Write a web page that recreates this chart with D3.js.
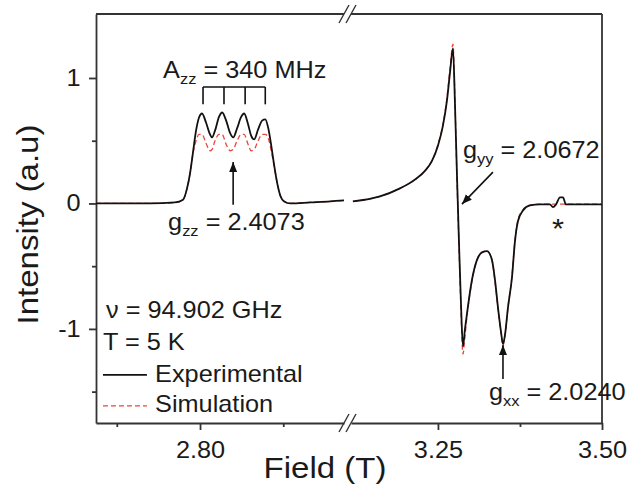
<!DOCTYPE html>
<meta charset="utf-8">
<style>
body { margin: 0; background: #fff; }
svg { font-family: "Liberation Sans", Arial, sans-serif; }
text { fill: #1a1a1a; white-space: pre; }
.axis path, .axis line { fill: none; stroke: #333; stroke-width: 1.8; }
.axis text { font-size: 23px; fill: #1a1a1a; }
.frame { stroke: #333; stroke-width: 1.8; fill: none; }
.exp { fill: none; stroke: #111; stroke-width: 1.8; }
.sim { fill: none; stroke: #e8473f; stroke-width: 1.3; stroke-dasharray: 5,3; }
.note { stroke: #111; stroke-width: 1.6; fill: none; }
</style>
<svg class="chart"></svg>
<script src="https://d3js.org/d3.v7.min.js"></script>
<script>

// left piece of the broken field axis (T)
var fieldLeft = [2.7375, 2.7700, 2.7849, 2.7898, 2.7922, 2.7940, 2.7958, 2.7976, 2.7994, 2.8012,
                 2.8036, 2.8060, 2.8072, 2.8090, 2.8114, 2.8133, 2.8157, 2.8181, 2.8199, 2.8223,
                 2.8247, 2.8265, 2.8289, 2.8307, 2.8325, 2.8349, 2.8373, 2.8392, 2.8410, 2.8428,
                 2.8446, 2.8464, 2.8482, 2.8506, 2.8542, 2.8663, 2.8783, 2.8865];
var expLeft = [0, 0, 0.008, 0.03, 0.12, 0.24, 0.41, 0.58, 0.685, 0.717,
               0.645, 0.55, 0.526, 0.58, 0.69, 0.725, 0.66, 0.56, 0.526, 0.60,
               0.69, 0.717, 0.63, 0.54, 0.51, 0.59, 0.66, 0.67, 0.60, 0.46,
               0.30, 0.16, 0.064, 0.016, 0, 0.008, 0.016, 0.024];
var simLeft = [0, 0, 0.005, 0.03, 0.12, 0.24, 0.40, 0.50, 0.55, 0.55,
               0.48, 0.42, 0.43, 0.50, 0.55, 0.55, 0.47, 0.42, 0.43, 0.50,
               0.55, 0.55, 0.47, 0.42, 0.43, 0.50, 0.55, 0.55, 0.52, 0.42,
               0.29, 0.16, 0.06, 0.015, 0, 0.008, 0.016, 0.024];

// right piece
var fieldRight = [3.1204, 3.1616, 3.1921, 3.2149, 3.2302, 3.2409, 3.2500, 3.2576, 3.2637, 3.2683,
                  3.2729, 3.2759, 3.2790, 3.2820, 3.2851, 3.2881, 3.2912, 3.2942, 3.3018, 3.3095,
                  3.3171, 3.3247, 3.3323, 3.3369, 3.3415, 3.3460, 3.3491, 3.3521, 3.3567, 3.3628,
                  3.3674, 3.3720, 3.3796, 3.3902, 3.4055, 3.4207, 3.4253, 3.4299, 3.4360, 3.4405,
                  3.4451, 3.4665, 3.5000];
var expRight = [0.016, 0.056, 0.12, 0.19, 0.26, 0.34, 0.46, 0.62, 0.82, 1.04,
                1.235, 0.80, 0.22, -0.30, -0.80, -1.14, -1.00, -0.88, -0.61, -0.45,
                -0.39, -0.38, -0.45, -0.61, -0.83, -1.02, -1.12, -1.05, -0.83, -0.59,
                -0.30, -0.14, -0.056, -0.016, -0.008, -0.008, -0.03, -0.008, 0.048, 0.048,
                -0.008, -0.008, -0.008];
var simRight = [0.016, 0.056, 0.12, 0.19, 0.26, 0.34, 0.47, 0.63, 0.84, 1.07,
                1.27, 0.82, 0.20, -0.33, -0.85, -1.20, -1.06, -0.90, -0.62, -0.45,
                -0.39, -0.38, -0.45, -0.62, -0.84, -1.03, -1.13, -1.06, -0.83, -0.58,
                -0.29, -0.13, -0.05, -0.014, -0.006, -0.006, -0.006, -0.006, -0.006, -0.006,
                -0.006, -0.006, -0.006];

var leftTicks = [2.80], leftMinor = [2.75, 2.85];
var rightTicks = [3.25, 3.50], rightMinor = [3.375];
var yTicks = [1, 0, -1], yMinor = [0.5, -0.5, -1.5];
var hfLines = [2.8018, 2.8144, 2.8271, 2.8392];   // A_zz comb

var margin = {top: 14, left: 96, right: 26, bottom: 61},
    W = 628, H = 484,
    x0 = margin.left, x1 = W - margin.right,
    y0 = margin.top, y1 = H - margin.bottom,
    gapL = 344, gapR = 351;

var svg = d3.select(".chart").attr("width", W).attr("height", H);

var xL = d3.scaleLinear().domain([2.7375, 2.8865]).range([x0, gapL]);
var xR = d3.scaleLinear().domain([3.1175, 3.50]).range([gapR, x1]);
var y = d3.scaleLinear().domain([-1.75, 1.51]).range([y1, y0]);

// arrow marker
svg.append("defs").append("marker")
    .attr("id", "head").attr("markerUnits", "userSpaceOnUse")
    .attr("viewBox", "0 0 10 8").attr("refX", 10).attr("refY", 4)
    .attr("markerWidth", 10).attr("markerHeight", 9).attr("orient", "auto")
  .append("path").attr("d", "M0,0L10,4L0,8z").attr("fill", "#111");

// axes
function bottom(scale, major, minor) {
  svg.append("g").attr("class", "axis")
      .attr("transform", "translate(0," + y1 + ")")
      .call(d3.axisBottom(scale).tickValues(major).tickSize(7).tickSizeOuter(0)
            .tickPadding(12).tickFormat(d3.format(".2f")))
    .selectAll("text").attr("transform", "scale(1.1,1)");
  svg.append("g").attr("class", "axis")
      .attr("transform", "translate(0," + y1 + ")")
      .call(d3.axisBottom(scale).tickValues(minor).tickSize(4).tickSizeOuter(0).tickFormat(""))
    .select(".domain").remove();
}
bottom(xL, leftTicks, leftMinor);
bottom(xR, rightTicks, rightMinor);

svg.append("g").attr("class", "axis")
    .attr("transform", "translate(" + x0 + ",0)")
    .call(d3.axisLeft(y).tickValues(yTicks).tickSize(7).tickSizeOuter(0).tickPadding(7)
          .tickFormat(function (d) { return String(d); }))
  .selectAll("text").attr("transform", "scale(1.1,1)");
svg.append("g").attr("class", "axis")
    .attr("transform", "translate(" + x0 + ",0)")
    .call(d3.axisLeft(y).tickValues(yMinor).tickSize(4).tickSizeOuter(0).tickFormat(""))
  .select(".domain").remove();

// top and right frame
svg.append("line").attr("class", "frame").attr("x1", x0).attr("x2", gapL).attr("y1", y0).attr("y2", y0);
svg.append("line").attr("class", "frame").attr("x1", gapR).attr("x2", x1).attr("y1", y0).attr("y2", y0);
svg.append("line").attr("class", "frame").attr("x1", x1).attr("x2", x1).attr("y1", y0).attr("y2", y1);

// break marks
[y0, y1].forEach(function (yy) {
  [gapL, gapR].forEach(function (xx) {
    svg.append("line").attr("class", "frame").style("stroke-width", 1.4)
        .attr("x1", xx - 5).attr("y1", yy + 9).attr("x2", xx + 5).attr("y2", yy - 9);
  });
});

// spectra
function curve(scale) {
  return d3.line().x(function (d) { return scale(d[0]); })
                  .y(function (d) { return y(d[1]); })
                  .curve(d3.curveMonotoneX);
}
var zipL = function (v) { return fieldLeft.map(function (f, i) { return [f, v[i]]; }); };
var zipR = function (v) { return fieldRight.map(function (f, i) { return [f, v[i]]; }); };

svg.append("path").attr("class", "sim").attr("d", curve(xL)(zipL(simLeft)));
svg.append("path").attr("class", "sim").attr("d", curve(xR)(zipR(simRight)));
svg.append("path").attr("class", "exp").attr("d", curve(xL)(zipL(expLeft)));
svg.append("path").attr("class", "exp").attr("d", curve(xR)(zipR(expRight)));

// text helper: pieces = [[str, isSub], ...]
function label(px, py, pieces, size) {
  var t = svg.append("text")
      .attr("transform", "translate(" + px + "," + py + ") scale(1.1,1)")
      .style("font-size", (size || 23) + "px");
  var wasSub = false;
  pieces.forEach(function (p) {
    var ts = t.append("tspan").text(p[0]);
    if (p[1]) { ts.style("font-size", "15px").attr("dy", 6); wasSub = true; }
    else if (wasSub) { ts.attr("dy", -6); wasSub = false; }
  });
  return t;
}

// hyperfine comb
svg.append("line").attr("class", "note")
    .attr("x1", xL(hfLines[0])).attr("x2", xL(hfLines[hfLines.length - 1]))
    .attr("y1", y(0.928)).attr("y2", y(0.928));
svg.selectAll(".comb").data(hfLines).enter().append("line").attr("class", "note")
    .attr("x1", function (d) { return xL(d); }).attr("x2", function (d) { return xL(d); })
    .attr("y1", y(0.928)).attr("y2", y(0.79));

label(xL(2.7778), y(0.997), [["A"], ["zz", true], [" = 340 MHz"]]);

// g_zz
svg.append("line").attr("class", "note").attr("marker-end", "url(#head)")
    .attr("x1", xL(2.8199)).attr("x2", xL(2.8199)).attr("y1", y(-0.01)).attr("y2", y(0.33));
label(xL(2.7808), y(-0.212), [["g"], ["zz", true], [" = 2.4073"]]);

// g_yy
svg.append("line").attr("class", "note").attr("marker-end", "url(#head)")
    .attr("x1", xR(3.3338)).attr("x2", xR(3.2866)).attr("y1", y(0.25)).attr("y2", y(-0.005));
label(xR(3.2881), y(0.362), [["g"], ["yy", true], [" = 2.0672"]]);

// impurity mark
label(xR(3.4329), y(-0.275), [["*"]], 28).attr("text-anchor", "middle");

// g_xx
svg.append("line").attr("class", "note").attr("marker-end", "url(#head)")
    .attr("x1", xR(3.3491)).attr("x2", xR(3.3491)).attr("y1", y(-1.40)).attr("y2", y(-1.128));
label(xR(3.3277), y(-1.567), [["g"], ["xx", true], [" = 2.0240"]]);

// conditions + legend
label(xL(2.7435), y(-0.913), [["\u03bd = 94.902 GHz"]]);
label(xL(2.7417), y(-1.168), [["T = 5 K"]]);
svg.append("line").attr("class", "exp")
    .attr("x1", xL(2.7417)).attr("x2", xL(2.7681)).attr("y1", y(-1.367)).attr("y2", y(-1.367));
label(xL(2.7730), y(-1.423), [["Experimental"]]);
svg.append("line").attr("class", "sim")
    .attr("x1", xL(2.7417)).attr("x2", xL(2.7681)).attr("y1", y(-1.614)).attr("y2", y(-1.614));
label(xL(2.7730), y(-1.662), [["Simulation"]]);

// axis titles
svg.append("text")
    .attr("transform", "translate(38," + ((y0 + y1) / 2 + 6) + ") rotate(-90) scale(1.1,1)")
    .attr("text-anchor", "middle").style("font-size", "30px")
    .text("Intensity (a.u)");
svg.append("text")
    .attr("transform", "translate(325,478) scale(1.1,1)")
    .attr("text-anchor", "middle").style("font-size", "30px")
    .text("Field (T)");

</script>
